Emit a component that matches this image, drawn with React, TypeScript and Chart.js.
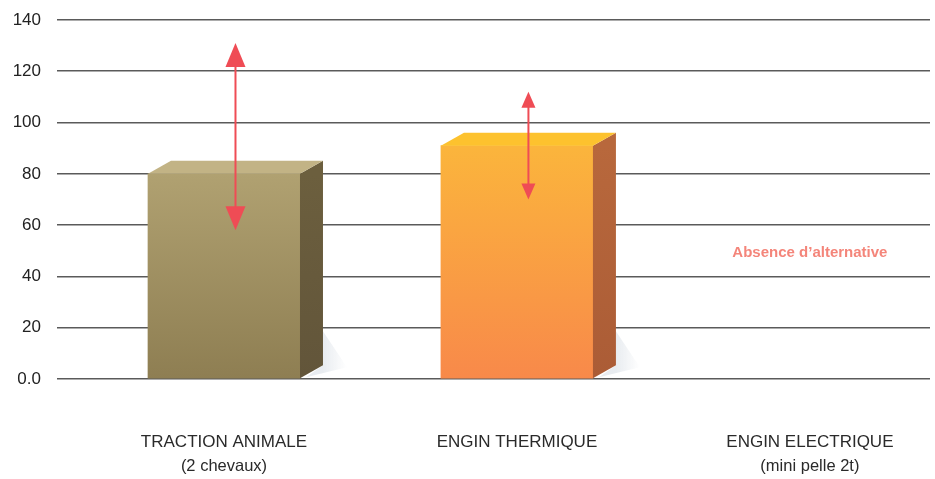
import React, { useEffect, useRef } from "react";
import { Chart, registerables } from "chart.js";

Chart.register(...registerables);

// ---- data ----
const categories = ["TRACTION ANIMALE", "ENGIN THERMIQUE", "ENGIN ELECTRIQUE"];
const subLabels = ["(2 chevaux)", "", "(mini pelle 2t)"];
const values: (number | null)[] = [80, 91, null];
const rangeLow: (number | null)[] = [58, 70, null];
const rangeHigh: (number | null)[] = [131, 112, null];
const yTicks = [0, 20, 40, 60, 80, 100, 120, 140];
const noteText = "Absence d’alternative";
const noteIndex = 2;
const noteValue = 49;

// ---- styles ----
const frontTop = ["#b0a171", "#fbb53c"];
const frontBottom = ["#8e7e52", "#f8894a"];
const topFace = ["#c2b385", "#fdc22e"];
const sideTop = ["#6c5f3e", "#b8683c"];
const sideBottom = ["#62553a", "#ab5c36"];
const arrowHeadLen = [24, 16];
const arrowHeadW = [20, 14];
const DX = 23;
const DY = 13;
const FONT = "'Liberation Sans', Arial, Helvetica, sans-serif";

const bar3dPlugin = {
  id: "bar3d",
  afterDatasetsDraw(chart: any) {
    const ctx = chart.ctx;
    const meta = chart.getDatasetMeta(0);
    const yScale = chart.scales.y;
    meta.data.forEach((bar: any, i: number) => {
      if (values[i] == null) return;
      const { x, y, base, width } = bar.getProps(["x", "y", "base", "width"], true);
      if (![x, y, base, width].every((n) => Number.isFinite(n))) return;
      const l = x - width / 2;
      const r = x + width / 2;
      ctx.save();
      // soft floor shadow
      const sh = ctx.createLinearGradient(r + DX, 0, r + DX + 24, 0);
      sh.addColorStop(0, "rgba(190,200,212,0.35)");
      sh.addColorStop(1, "rgba(190,200,212,0)");
      ctx.fillStyle = sh;
      ctx.beginPath();
      ctx.moveTo(r + DX, base - DY - 34);
      ctx.lineTo(r + DX + 24, base - DY + 2);
      ctx.lineTo(r + 6, base - 1);
      ctx.lineTo(r + DX, base - DY);
      ctx.closePath();
      ctx.fill();
      // side face
      const sg = ctx.createLinearGradient(0, y, 0, base);
      sg.addColorStop(0, sideTop[i]);
      sg.addColorStop(1, sideBottom[i]);
      ctx.fillStyle = sg;
      ctx.beginPath();
      ctx.moveTo(r, y);
      ctx.lineTo(r + DX, y - DY);
      ctx.lineTo(r + DX, base - DY);
      ctx.lineTo(r, base);
      ctx.closePath();
      ctx.fill();
      // top face
      ctx.fillStyle = topFace[i];
      ctx.beginPath();
      ctx.moveTo(l, y);
      ctx.lineTo(l + DX, y - DY);
      ctx.lineTo(r + DX, y - DY);
      ctx.lineTo(r, y);
      ctx.closePath();
      ctx.fill();
      ctx.restore();

      // range arrows
      const lo = rangeLow[i];
      const hi = rangeHigh[i];
      if (lo == null || hi == null) return;
      const ax = x + DX / 2;
      const yHi = yScale.getPixelForValue(hi);
      const yLo = yScale.getPixelForValue(lo);
      const hl = arrowHeadLen[i];
      const hw = arrowHeadW[i] / 2;
      ctx.save();
      ctx.strokeStyle = "#ef4c55";
      ctx.fillStyle = "#ef4c55";
      ctx.lineWidth = 2;
      ctx.beginPath();
      ctx.moveTo(ax, yHi + hl - 2);
      ctx.lineTo(ax, yLo - hl + 2);
      ctx.stroke();
      ctx.beginPath();
      ctx.moveTo(ax, yHi);
      ctx.lineTo(ax - hw, yHi + hl);
      ctx.lineTo(ax + hw, yHi + hl);
      ctx.closePath();
      ctx.fill();
      ctx.beginPath();
      ctx.moveTo(ax, yLo);
      ctx.lineTo(ax - hw, yLo - hl);
      ctx.lineTo(ax + hw, yLo - hl);
      ctx.closePath();
      ctx.fill();
      ctx.restore();
    });
  },
};

const labelsPlugin = {
  id: "xlabels",
  afterDraw(chart: any) {
    const ctx = chart.ctx;
    const xs = chart.scales.x;
    const ys = chart.scales.y;
    ctx.save();
    ctx.textAlign = "center";
    ctx.textBaseline = "middle";
    ctx.fillStyle = "#2a2a2a";
    categories.forEach((c, i) => {
      const px = xs.getPixelForValue(i);
      ctx.font = `17px ${FONT}`;
      ctx.fillText(c, px, 442);
      if (subLabels[i]) {
        ctx.font = `16.5px ${FONT}`;
        ctx.fillText(subLabels[i], px, 466);
      }
    });
    ctx.font = `bold 15px ${FONT}`;
    ctx.fillStyle = "#f4857a";
    ctx.fillText(noteText, xs.getPixelForValue(noteIndex), ys.getPixelForValue(noteValue));
    ctx.restore();
  },
};

export default function App() {
  const ref = useRef<HTMLCanvasElement | null>(null);
  useEffect(() => {
    if (!ref.current) return;
    const chart = new Chart(ref.current, {
      type: "bar",
      data: {
        datasets: [
          {
            data: categories.map((_, i) => ({ x: i, y: values[i] })) as any,
            barThickness: 152,
            borderWidth: 0,
            backgroundColor: (c: any) => {
              const i = c.dataIndex;
              const chartObj = c.chart;
              const fallback = frontBottom[i] || "#888";
              const ys = chartObj.scales?.y;
              if (!ys || values[i] == null || !chartObj.chartArea) return fallback;
              const y0 = ys.getPixelForValue(values[i] as number);
              const y1 = ys.getPixelForValue(0);
              if (!Number.isFinite(y0) || !Number.isFinite(y1) || y0 === y1) return fallback;
              const g = chartObj.ctx.createLinearGradient(0, y0, 0, y1);
              g.addColorStop(0, frontTop[i]);
              g.addColorStop(1, frontBottom[i]);
              return g;
            },
          },
        ],
      },
      options: {
        animation: false,
        responsive: true,
        maintainAspectRatio: false,
        layout: { padding: { top: 20, right: 5, left: 0, bottom: 0 } },
        plugins: { legend: { display: false }, tooltip: { enabled: false }, title: { display: false } },
        scales: {
          x: {
            type: "linear",
            min: -0.57,
            max: 2.41,
            offset: false,
            grid: { display: false },
            border: { display: false },
            ticks: { display: false },
            afterFit: (s: any) => { s.height = 100; },
          },
          y: {
            min: 0,
            max: 140,
            afterBuildTicks: (s: any) => { s.ticks = yTicks.map((v) => ({ value: v })); },
            afterFit: (s: any) => {
              s.width = 57;
              s.paddingTop = 0;
              s.paddingBottom = 0;
            },
            grid: { color: "#5a5a5a", lineWidth: 1.6, drawTicks: false },
            border: { display: false },
            ticks: {
              padding: 16,
              color: "#222",
              font: { family: FONT, size: 17 },
              callback: (v: any) => (Number(v) === 0 ? "0.0" : String(v)),
            },
          },
        },
      },
      plugins: [bar3dPlugin, labelsPlugin],
    });
    return () => chart.destroy();
  }, []);
  return (
    <div style={{ position: "fixed", left: 0, top: 0, width: 935, height: 479, background: "#fff" }}>
      <canvas ref={ref} />
    </div>
  );
}
